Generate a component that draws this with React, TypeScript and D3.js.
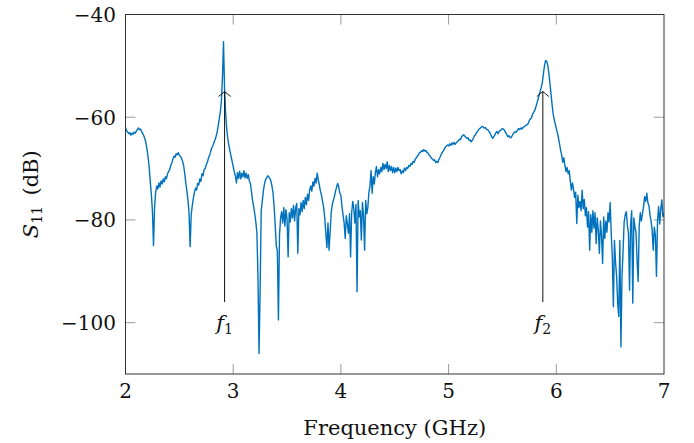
import React from 'react';
import * as d3 from 'd3';

// sampled S11 in dB, one array per GHz band, 10 MHz step
const FREQ_STEP = 0.01;

const s11Band2 = [
  -62.0, -62.6, -62.9, -63.2, -63.0, -63.5, -63.1, -63.3, -62.9, -63.1,
  -62.7, -62.4, -62.1, -62.4, -62.3, -62.8, -63.2, -63.6, -64.2, -65.0,
  -66.3, -67.8, -69.8, -72.6, -75.0, -78.2, -85.0, -77.5, -74.6, -73.4,
  -74.0, -72.8, -73.6, -72.4, -73.0, -72.0, -72.6, -71.6, -72.0, -71.0,
  -70.6, -70.2, -69.4, -68.9, -68.2, -67.6, -67.8, -67.1, -67.3, -66.9,
  -67.4, -67.6, -68.0, -68.6, -69.4, -71.0, -72.8, -74.4, -76.2, -78.6,
  -85.2, -79.0, -77.2, -75.8, -74.6, -73.8, -74.2, -72.9, -73.2, -72.0,
  -72.5, -71.0, -71.4, -70.2, -70.0, -69.2, -68.8, -68.0, -67.4, -66.8,
  -66.0, -65.6, -65.0, -64.5, -63.8, -63.0, -61.8, -60.4, -59.0, -57.0,
  -52.5, -45.3, -54.6, -59.4, -62.3, -64.2, -65.5, -66.6, -67.6, -68.6,
];

const s11Band3 = [
  -69.6, -70.6, -71.4, -72.8, -70.8, -71.9, -70.5, -72.0, -70.9, -71.6,
  -70.4, -71.8, -70.9, -71.9, -71.2, -72.4, -72.9, -74.6, -76.2, -77.4,
  -78.8, -80.4, -82.5, -91.0, -106.0, -93.5, -78.2, -76.4, -74.4, -73.0,
  -72.2, -71.8, -71.4, -71.6, -71.9, -72.4, -73.4, -74.8, -77.4, -81.0,
  -85.0, -86.0, -99.5, -83.0, -79.6, -78.4, -80.6, -77.6, -81.2, -78.0,
  -79.8, -87.2, -78.6, -80.4, -77.8, -79.6, -77.2, -80.2, -77.6, -76.8,
  -86.5, -77.8, -79.0, -76.6, -78.4, -76.2, -77.8, -75.6, -77.0, -75.0,
  -76.2, -74.2, -73.4, -74.4, -72.6, -73.4, -71.9, -72.8, -70.9, -72.2,
  -73.2, -74.4, -75.2, -76.4, -77.6, -79.6, -82.6, -85.4, -80.6, -85.9,
  -82.2, -78.6, -77.0, -76.2, -75.4, -74.4, -73.6, -72.9, -73.6, -74.8,
];

const s11Band4 = [
  -75.2, -77.4, -79.0, -80.6, -83.6, -79.2, -80.8, -82.6, -78.8, -87.2,
  -78.6, -76.4, -77.8, -80.6, -77.0, -94.0, -76.2, -79.4, -78.2, -83.9,
  -76.6, -79.2, -85.9, -76.2, -78.8, -77.6, -74.6, -73.4, -70.4, -74.8,
  -71.6, -73.0, -70.8, -69.6, -71.6, -70.2, -71.0, -69.8, -70.6, -69.0,
  -70.2, -69.2, -70.0, -68.7, -70.6, -69.4, -70.4, -69.6, -70.8, -69.8,
  -70.8, -69.9, -70.6, -69.8, -70.4, -70.2, -71.0, -70.4, -70.8, -69.9,
  -70.4, -69.8, -70.0, -69.4, -69.6, -69.0, -69.2, -68.6, -68.8, -68.2,
  -67.9, -67.6, -67.3, -66.9, -66.8, -66.5, -66.7, -66.3, -66.6, -66.5,
  -66.9, -67.0, -67.4, -67.6, -68.0, -68.1, -68.4, -68.3, -68.8, -68.6,
  -68.8, -68.2, -67.8, -67.3, -66.9, -66.6, -66.2, -65.8, -65.6, -65.4,
];

const s11Band5 = [
  -65.6, -65.2, -65.5, -65.0, -65.3, -64.9, -65.3, -65.0, -64.8, -64.6,
  -64.3, -64.4, -63.8, -63.6, -63.4, -63.7, -63.9, -64.1, -64.0, -64.5,
  -64.4, -64.8, -64.5, -64.1, -63.6, -63.4, -63.0, -62.7, -62.4, -62.2,
  -62.0, -61.8, -61.9, -62.1, -62.0, -62.3, -62.4, -62.6, -62.9, -63.3,
  -63.8, -64.1, -63.8, -63.4, -63.0, -62.8, -63.2, -62.7, -62.6, -62.4,
  -62.2, -62.3, -62.6, -63.0, -63.4, -63.8, -63.6, -63.9, -64.0, -63.6,
  -63.2, -63.0, -62.8, -62.9, -62.5, -62.2, -62.4, -62.1, -62.3, -62.0,
  -61.9, -61.7, -61.6, -61.4, -61.2, -60.6, -60.3, -60.1, -59.4, -59.0,
  -58.7, -58.0, -57.3, -56.5, -55.7, -55.0, -54.2, -53.3, -51.6, -50.0,
  -49.0, -49.1, -49.8, -51.3, -53.2, -55.3, -57.4, -59.2, -60.4, -61.3,
];

const s11Band6 = [
  -62.2, -63.0, -64.0, -65.2, -66.4, -67.4, -68.8, -67.9, -69.4, -70.6,
  -69.8, -71.0, -70.4, -72.4, -74.2, -72.8, -74.0, -75.6, -74.6, -80.7,
  -75.2, -77.6, -76.4, -78.2, -74.2, -77.8, -76.0, -79.2, -77.6, -81.4,
  -78.4, -85.9, -79.0, -82.4, -78.2, -81.6, -78.6, -84.6, -79.6, -82.0,
  -86.5, -80.2, -83.0, -88.5, -79.4, -83.6, -80.2, -82.4, -78.6, -80.4,
  -76.6, -82.6, -87.2, -96.9, -84.0, -88.2, -91.0, -96.2, -98.8, -84.0,
  -104.7, -91.0, -86.0, -80.4, -79.0, -78.4, -81.0, -82.6, -93.7, -81.0,
  -78.2, -96.2, -79.6, -81.4, -82.4, -87.8, -92.0, -81.2, -78.6, -80.2,
  -78.8, -77.4, -75.5, -76.4, -74.8, -76.6, -77.2, -79.0, -80.2, -82.0,
  -85.9, -81.4, -83.0, -91.0, -80.2, -77.4, -80.8, -78.0, -76.1, -79.4,
  -78.6,
];

const bands = [
  { start: 2, values: s11Band2 },
  { start: 3, values: s11Band3 },
  { start: 4, values: s11Band4 },
  { start: 5, values: s11Band5 },
  { start: 6, values: s11Band6 },
];

const xTicks = [2, 3, 4, 5, 6, 7];
const yTicks = [-40, -60, -80, -100];

// resonance markers
const markerFreqs = [2.92, 5.875];
const markerIndex = ['1', '2'];
const markerTop = -55;
const markerBottom = -96;

const W = 694;
const H = 443;
const FONT = '"DejaVu Serif", serif';
const BLUE = '#0072bd';

const App: React.FC = () => {
  const x = d3.scaleLinear().domain([2, 7]).range([125.5, 664]);
  const y = d3.scaleLinear().domain([-110, -40]).range([374, 14.5]);

  const points: [number, number][] = [];
  bands.forEach(b => {
    b.values.forEach((v, i) => points.push([b.start + i * FREQ_STEP, v]));
  });

  const line = d3.line<[number, number]>()
    .x(d => x(d[0]))
    .y(d => y(d[1]));

  const [x0, x1] = x.range();
  const [y0, y1] = y.range();
  const tickLen = 10;

  return (
    <svg width={W} height={H} style={{ position: 'absolute', left: 0, top: 0 }} fontFamily={FONT}>
      <defs>
        <clipPath id="plot">
          <rect x={x0} y={y1} width={x1 - x0} height={y0 - y1} />
        </clipPath>
      </defs>

      {/* ticks, all four sides */}
      <g stroke="#9a9a9a" strokeWidth={1}>
        {xTicks.slice(1, -1).map(t => (
          <g key={'x' + t}>
            <line x1={x(t)} x2={x(t)} y1={y0} y2={y0 - tickLen} />
            <line x1={x(t)} x2={x(t)} y1={y1} y2={y1 + tickLen} />
          </g>
        ))}
        {yTicks.slice(1).map(t => (
          <g key={'y' + t}>
            <line x1={x0} x2={x0 + tickLen} y1={y(t)} y2={y(t)} />
            <line x1={x1} x2={x1 - tickLen} y1={y(t)} y2={y(t)} />
          </g>
        ))}
      </g>

      <path
        d={line(points) || ''}
        fill="none"
        stroke={BLUE}
        strokeWidth={1.4}
        strokeLinejoin="round"
        clipPath="url(#plot)"
      />

      {/* f1 / f2 markers */}
      {markerFreqs.map((f, i) => {
        const mx = x(f);
        const top = y(markerTop);
        return (
          <g key={'m' + i}>
            <line x1={mx} x2={mx} y1={y(markerBottom)} y2={top} stroke="#111" strokeWidth={1} />
            <path
              d={`M${mx - 6},${top + 5} Q${mx - 2},${top + 1.5} ${mx},${top} Q${mx + 2},${top + 1.5} ${mx + 6},${top + 5}`}
              fill="none"
              stroke="#111"
              strokeWidth={1}
            />
            <text x={mx} y={y(markerBottom) + 28} textAnchor="middle" fontSize={21} fill="#111">
              <tspan fontStyle="italic">f</tspan>
              <tspan fontSize={14} dy={4}>{markerIndex[i]}</tspan>
            </text>
          </g>
        );
      })}

      <rect x={x0} y={y1} width={x1 - x0} height={y0 - y1} fill="none" stroke="#333" strokeWidth={1} />

      {/* tick labels */}
      {xTicks.map(t => (
        <text key={'xl' + t} x={x(t)} y={398} textAnchor="middle" fontSize={20} fill="#111">
          {t}
        </text>
      ))}
      {yTicks.map(t => (
        <text key={'yl' + t} x={116} y={y(t) + 7.5} textAnchor="end" fontSize={20} fill="#111">
          {'\u2212' + Math.abs(t)}
        </text>
      ))}

      <text x={(x0 + x1) / 2} y={435} textAnchor="middle" fontSize={21} fill="#111">
        Frequency (GHz)
      </text>
      <text transform={`translate(38,${(y0 + y1) / 2}) rotate(-90)`} textAnchor="middle" fontSize={21} fill="#111">
        <tspan fontStyle="italic">S</tspan>
        <tspan fontSize={14} dy={4}>11</tspan>
        <tspan dy={-4}>{'\u2002(dB)'}</tspan>
      </text>
    </svg>
  );
};

export default App;
